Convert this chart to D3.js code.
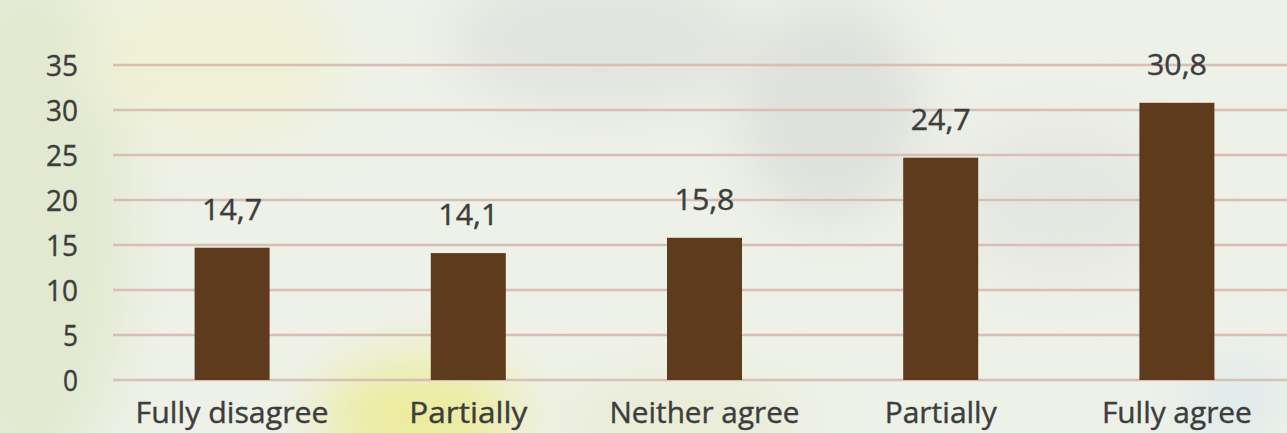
<!DOCTYPE html>
<html>
<head>
<meta charset="utf-8">
<script src="https://cdn.jsdelivr.net/npm/d3@7"></script>
<style>
  html, body { margin: 0; padding: 0; overflow: hidden; }
  svg { display: block; }
</style>
</head>
<body>
<script>
// chart data
var categories = ["Fully disagree", "Partially", "Neither agree", "Partially", "Fully agree"];
var values = [14.7, 14.1, 15.8, 24.7, 30.8];
var valueLabels = ["14,7", "14,1", "15,8", "24,7", "30,8"];
var yTicks = [0, 5, 10, 15, 20, 25, 30, 35];

var svgWidth = 1287;
var svgHeight = 433;

var svg = d3.select("body").append("svg")
    .attr("width", svgWidth)
    .attr("height", svgHeight);

// faded watercolour-ish background
var defs = svg.append("defs");
defs.append("filter")
    .attr("id", "blur")
    .attr("x", "-50%").attr("y", "-50%")
    .attr("width", "200%").attr("height", "200%")
    .append("feGaussianBlur")
    .attr("stdDeviation", 28);

svg.append("rect")
    .attr("width", svgWidth)
    .attr("height", svgHeight)
    .attr("fill", "#eef1e7");

var blobs = svg.append("g").attr("filter", "url(#blur)");
blobs.append("ellipse").attr("cx", 30).attr("cy", 220).attr("rx", 100).attr("ry", 260).attr("fill", "#e2e9d0");
blobs.append("ellipse").attr("cx", 210).attr("cy", 60).attr("rx", 130).attr("ry", 80).attr("fill", "#eff1d6");
blobs.append("ellipse").attr("cx", 600).attr("cy", 40).attr("rx", 150).attr("ry", 70).attr("fill", "#e1e4df");
blobs.append("ellipse").attr("cx", 830).attr("cy", 110).attr("rx", 90).attr("ry", 110).attr("fill", "#dee1dc");
blobs.append("ellipse").attr("cx", 1060).attr("cy", 200).attr("rx", 110).attr("ry", 80).attr("fill", "#e5e7e2");
blobs.append("ellipse").attr("cx", 420).attr("cy", 415).attr("rx", 100).attr("ry", 55).attr("fill", "#ecec9e");
blobs.append("ellipse").attr("cx", 680).attr("cy", 420).attr("rx", 120).attr("ry", 40).attr("fill", "#e9ecd4");
blobs.append("ellipse").attr("cx", 1235).attr("cy", 400).attr("rx", 55).attr("ry", 45).attr("fill", "#e0eaed");

// scales
var xScale = d3.scaleBand()
    .domain(d3.range(categories.length))
    .range([114, 1295])
    .paddingInner(0)
    .paddingOuter(0);

var yScale = d3.scaleLinear()
    .domain([0, 35])
    .range([380, 65]);

var barWidth = 75;

// gridlines
svg.append("g")
    .selectAll("line")
    .data(yTicks)
    .enter().append("line")
    .attr("x1", 113)
    .attr("x2", svgWidth)
    .attr("y1", function(d) { return yScale(d); })
    .attr("y2", function(d) { return yScale(d); })
    .attr("stroke", "#d8bfb5")
    .attr("stroke-width", 2.5);

// y axis labels
var y_axis = d3.axisLeft(yScale)
    .tickValues(yTicks)
    .tickSize(0)
    .tickPadding(0);

var yAxisG = svg.append("g")
    .attr("transform", "translate(78, 0)")
    .call(y_axis);
yAxisG.select(".domain").remove();
yAxisG.selectAll("text")
    .attr("font-family", "'Open Sans', sans-serif")
    .attr("font-size", 30)
    .attr("fill", "#3d3d3d")
    .attr("stroke", "#3d3d3d")
    .attr("stroke-width", 0.4)
    .attr("dy", "0.35em")
    .attr("textLength", function(d) { return d < 10 ? 15 : 32; })
    .attr("lengthAdjust", "spacingAndGlyphs");

// bars
svg.append("g")
    .selectAll("rect")
    .data(values)
    .enter().append("rect")
    .attr("x", function(d, i) { return xScale(i) + xScale.bandwidth() / 2 - barWidth / 2; })
    .attr("y", function(d) { return yScale(d); })
    .attr("width", barWidth)
    .attr("height", function(d) { return yScale(0) - yScale(d); })
    .attr("fill", "#5e3b1c");

// value labels
svg.append("g")
    .selectAll("text")
    .data(values)
    .enter().append("text")
    .attr("x", function(d, i) { return xScale(i) + xScale.bandwidth() / 2; })
    .attr("y", function(d) { return yScale(d) - 28; })
    .attr("text-anchor", "middle")
    .attr("font-family", "'Open Sans', sans-serif")
    .attr("font-size", 29)
    .attr("fill", "#3d3d3d")
    .attr("stroke", "#3d3d3d")
    .attr("stroke-width", 0.4)
    .attr("textLength", 60)
    .attr("lengthAdjust", "spacingAndGlyphs")
    .text(function(d, i) { return valueLabels[i]; });

// category labels
var catWidths = [193, 118, 190, 112, 150];
svg.append("g")
    .selectAll("text")
    .data(categories)
    .enter().append("text")
    .attr("x", function(d, i) { return xScale(i) + xScale.bandwidth() / 2; })
    .attr("y", 423)
    .attr("text-anchor", "middle")
    .attr("font-family", "'Open Sans', sans-serif")
    .attr("font-size", 29)
    .attr("fill", "#3d3d3d")
    .attr("stroke", "#3d3d3d")
    .attr("stroke-width", 0.4)
    .attr("textLength", function(d, i) { return catWidths[i]; })
    .attr("lengthAdjust", "spacingAndGlyphs")
    .text(function(d) { return d; });
</script>
</body>
</html>
